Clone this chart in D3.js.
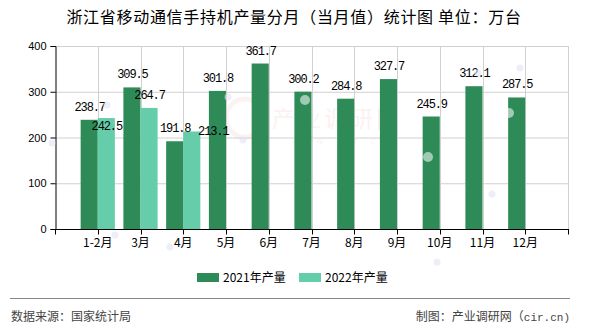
<!DOCTYPE html>
<html><head><meta charset="utf-8">
<script src="https://cdn.jsdelivr.net/npm/d3@7/dist/d3.min.js"></script>
<style>
html,body{margin:0;padding:0;background:#fff;}
svg{display:block;}
</style></head>
<body>
<svg id="chart" width="590" height="330"></svg>
<script>
const title = "浙江省移动通信手持机产量分月（当月值）统计图 单位：万台";
const categories = ["1-2月","3月","4月","5月","6月","7月","8月","9月","10月","11月","12月"];
const series2021 = [238.7,309.5,191.8,301.8,361.7,300.2,284.8,327.7,245.9,312.1,287.5];
const series2022 = [242.5,264.7,213.1];
const seriesNames = ["2021年产量","2022年产量"];
const seriesColors = ["#2e8b57","#66cdaa"];
const yTicks = [0,100,200,300,400];
const sourceText = "数据来源：国家统计局";
const creditCn = "制图：产业调研网（";
const creditEn = "cir.cn)";
// label layout tweaks (avoid overlapping labels), px
const labelShift2022 = {"1-2月":[0,21],"4月":[21,12]};

const svg = d3.select("#chart");
const m = {l:55, r:568, t:46, b:229};
const x = d3.scalePoint().domain(categories).range([m.l, m.r]).padding(1);
const step = x.step();
const bw = step*0.4;
const y = d3.scaleLinear().domain([0,400]).range([m.b, m.t]);

// watermark
const wm = svg.append("g").attr("opacity",0.05);
wm.append("circle").attr("cx",245).attr("cy",118).attr("r",19).attr("fill","none").attr("stroke","#c00").attr("stroke-width",5);
wm.append("text").attr("x",272).attr("y",127).attr("font-family","Noto Sans CJK SC").attr("font-size",23).attr("fill","#c00").attr("letter-spacing",3).text("产业调研网");
wm.append("text").attr("x",292).attr("y",144).attr("font-family","Noto Sans").attr("font-size",8).attr("fill","#c00").attr("letter-spacing",6).text("www.cir.cn");

// grid
const grid = svg.append("g");
grid.selectAll("line.h").data(yTicks.filter(d=>d>0)).join("line")
  .attr("x1",m.l).attr("x2",m.r).attr("y1",d=>y(d)+0.5).attr("y2",d=>y(d)+0.5)
  .attr("stroke","#d0d0d0");
grid.selectAll("line.v").data(categories).join("line")
  .attr("x1",d=>Math.round(x(d))+0.5).attr("x2",d=>Math.round(x(d))+0.5)
  .attr("y1",m.t).attr("y2",m.b).attr("stroke","#d0d0d0");
grid.append("line").attr("x1",m.r+0.5).attr("x2",m.r+0.5).attr("y1",m.t).attr("y2",m.b).attr("stroke","#d0d0d0");

// bars
const g = svg.append("g");
g.selectAll("rect.s1").data(series2021).join("rect")
  .attr("x",(d,i)=>x(categories[i])-bw).attr("width",bw)
  .attr("y",d=>y(d)).attr("height",d=>y(0)-y(d)).attr("fill",seriesColors[0]);
g.selectAll("rect.s2").data(series2022).join("rect")
  .attr("x",(d,i)=>x(categories[i])).attr("width",bw)
  .attr("y",d=>y(d)).attr("height",d=>y(0)-y(d)).attr("fill",seriesColors[1]);

// axes
const yAxis = d3.axisLeft(y).tickValues(yTicks).tickSize(5).tickPadding(4);
const ya = svg.append("g").attr("transform",`translate(${m.l+0.5},0)`).call(yAxis);
ya.select(".domain").attr("stroke","#000");
ya.selectAll(".tick line").attr("stroke","#000");
ya.selectAll("text").attr("font-family","Liberation Sans, sans-serif").attr("font-size",11).attr("fill","#000");

const xa = svg.append("g").attr("transform",`translate(0,${m.b+0.5})`);
xa.append("line").attr("x1",m.l).attr("x2",m.r+1).attr("stroke","#000").attr("stroke-width",1.2);
const tickPos = [m.l, ...categories.map(c=>x(c)), m.r];
xa.selectAll("line.t").data(tickPos).join("line")
  .attr("x1",d=>Math.round(d)+0.5).attr("x2",d=>Math.round(d)+0.5).attr("y1",0).attr("y2",5).attr("stroke","#000");
xa.selectAll("text").data(categories).join("text")
  .attr("x",d=>x(d)).attr("y",17).attr("text-anchor","middle")
  .attr("font-family","Noto Sans CJK SC, sans-serif").attr("font-size",12).attr("fill","#000").text(d=>d);

// value labels
const lab = svg.append("g").attr("font-family","Liberation Mono, monospace").attr("font-size",12).attr("letter-spacing",-1.1).attr("fill","#000").attr("text-anchor","middle");
lab.selectAll("text.s1").data(series2021).join("text")
  .attr("x",(d,i)=>x(categories[i])-bw/2+0.5).attr("y",d=>y(d)-9).text(d=>d.toFixed(1));
lab.selectAll("text.s2").data(series2022).join("text")
  .attr("x",(d,i)=>x(categories[i])+bw/2+0.5+((labelShift2022[categories[i]]||[0,0])[0]))
  .attr("y",(d,i)=>y(d)-9+((labelShift2022[categories[i]]||[0,0])[1])).text(d=>d.toFixed(1));

// decorative dots
const deco = svg.append("g");
const lav = [[52,143],[115,235],[170,247],[228,97],[243,140],[107,105],[492,194],[520,68],[478,73],[437,262]];
lav.forEach(p=>deco.append("circle").attr("cx",p[0]).attr("cy",p[1]).attr("r",3.5).attr("fill","#e2e2f4").attr("opacity",0.6));
const wht = [[305,100],[428,157],[509,113]];
wht.forEach(p=>deco.append("circle").attr("cx",p[0]).attr("cy",p[1]).attr("r",5).attr("fill","#fff").attr("opacity",0.55));

// title
svg.append("text").attr("x",294).attr("y",23).attr("text-anchor","middle").attr("letter-spacing",0.7)
  .attr("font-family","Noto Sans CJK SC, sans-serif").attr("font-size",16).attr("fill","#000").text(title);

// legend
const lg = svg.append("g");
const legX = [197,299];
seriesNames.forEach((n,i)=>{
  lg.append("rect").attr("x",legX[i]).attr("y",273).attr("width",22).attr("height",9).attr("fill",seriesColors[i]);
  lg.append("text").attr("x",legX[i]+26).attr("y",282).attr("font-family","Noto Sans CJK SC, sans-serif").attr("font-size",12).attr("fill","#000").text(n);
});

// footer
svg.append("line").attr("x1",10).attr("x2",570).attr("y1",298.5).attr("y2",298.5).attr("stroke","#888").attr("stroke-width",1.2);
svg.append("text").attr("x",11).attr("y",321).attr("font-family","Noto Sans CJK SC, sans-serif").attr("font-size",12).attr("fill","#444").text(sourceText);
const cr = svg.append("text").attr("x",570).attr("y",321).attr("text-anchor","end").attr("font-family","Noto Sans CJK SC, sans-serif").attr("font-size",12).attr("fill","#444");
cr.append("tspan").text(creditCn);
cr.append("tspan").attr("font-family","Liberation Mono, monospace").attr("font-size",11).text(creditEn);
</script>
</body></html>
